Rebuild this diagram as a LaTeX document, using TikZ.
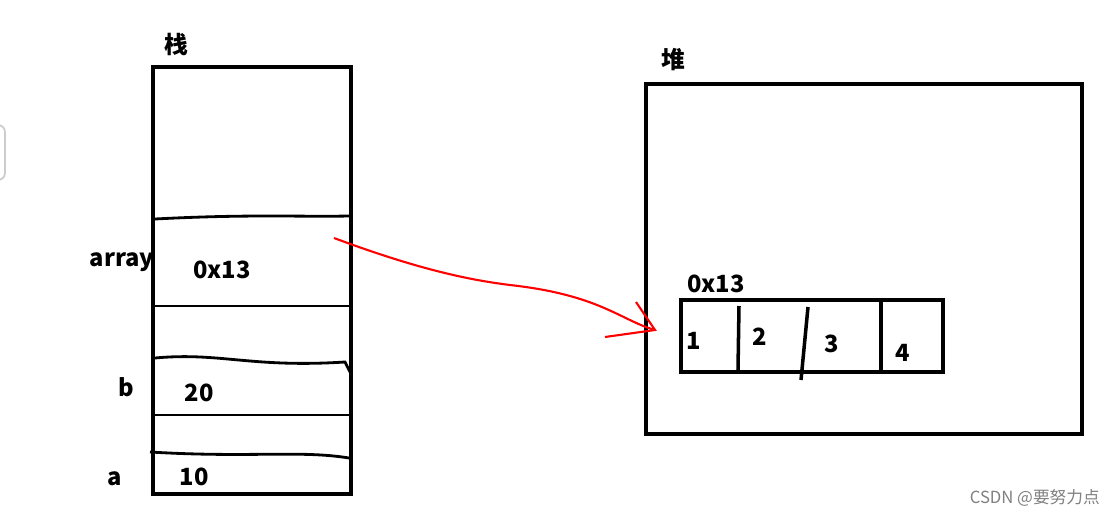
\documentclass[tikz,border=0pt]{standalone}
\usepackage{fontspec}
\setmainfont{Noto Sans CJK SC}
\begin{document}
\begin{tikzpicture}[x=0.02cm,y=-0.02cm,
  box/.style={draw,line width=2.2pt},
  lbl/.style={font=\bfseries\fontsize{13.5}{16}\selectfont},
  sep/.style={line width=1.6pt}]
\useasboundingbox (0,0) rectangle (1120,518);
\draw[gray!40,rounded corners=4pt,line width=1pt] (-10,125) rectangle (5,180);
% stack
\node[lbl] (stk) at (176,44) {栈};
\draw[box] (153,67) rectangle (351,494);
\draw[sep] (155,219) .. controls (250,214) and (300,217) .. (349,216);
\draw[sep] (155,306) -- (349,306);
\draw[sep] (155,358) .. controls (220,352) and (250,368) .. (345,362) -- (350,372);
\draw[sep] (155,415) -- (349,415);
\draw[sep] (150,452) .. controls (250,458) and (300,450) .. (349,458);
\node[lbl] (arr) at (122,262) {array};
\node[lbl] (v1) at (222,270) {0x13};
\node[lbl] (b) at (126,387) {b};
\node[lbl] (v2) at (199,393) {20};
\node[lbl] (a) at (115,479) {a};
\node[lbl] (v3) at (194,477) {10};
% heap
\node[lbl] (hp) at (673,60) {堆};
\draw[box] (646,84) rectangle (1082,434);
\node[lbl] (addr) at (716,284) {0x13};
\draw[box,line width=2pt] (681,300) rectangle (943,372);
\draw[sep,line width=2pt] (739,306) -- (738,370);
\draw[sep,line width=2pt] (808,307) -- (801,380);
\draw[sep,line width=2pt] (881,302) -- (881,370);
\node[lbl] (e1) at (694,341) {1};
\node[lbl] (e2) at (760,337) {2};
\node[lbl] (e3) at (832,344) {3};
\node[lbl] (e4) at (903,353) {4};
% pointer
\coordinate (p0) at (334,238);
\coordinate (p1) at (655,330);
\draw[red,line width=1.2pt] (p0) .. controls (420,270) and (470,280) .. (510,285)
  .. controls (600,295) and (620,320) .. (p1);
\draw[red,line width=1.2pt] (636,302) -- (p1) -- (605,337);
\node[gray,font=\fontsize{9.5}{12}\selectfont,anchor=east] (wm) at (1106,498) {CSDN @要努力点};
\end{tikzpicture}
\end{document}
